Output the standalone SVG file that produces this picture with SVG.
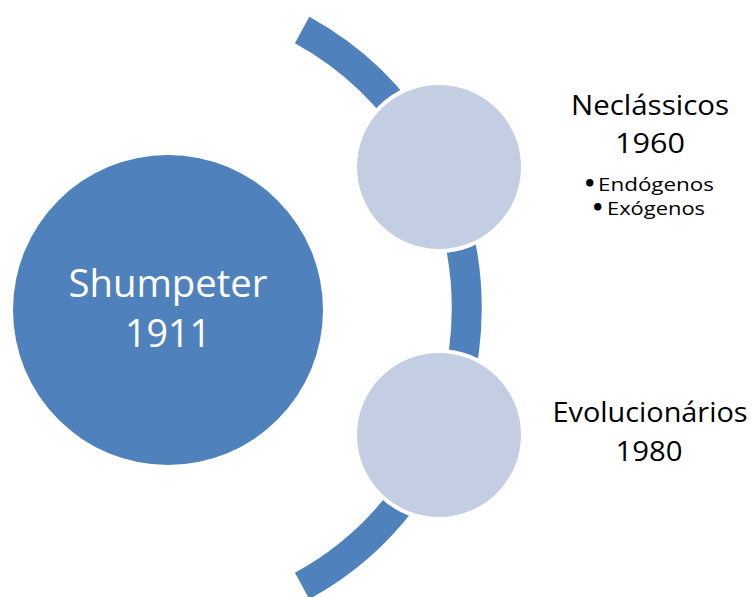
<svg xmlns="http://www.w3.org/2000/svg" width="751" height="597" viewBox="0 0 751 597">
  <style>
    .band { fill: none; stroke: #4F81BD; stroke-width: 30; stroke-linecap: butt; }
    .big { fill: #4F81BD; }
    .small { fill: #C4CEE2; stroke: #FFFFFF; stroke-width: 4; }
    .t { font-family: "Open Sans", "Liberation Sans", sans-serif; text-anchor: middle; }
    .s { font-family: "Open Sans", "Liberation Sans", sans-serif; font-size: 19px; }
    .b { font-family: "DejaVu Sans", sans-serif; font-weight: bold; font-size: 21px; }
    .w { fill: #FFFFFF; }
    .k { fill: #000000; }
  </style>
  <rect width="751" height="597" fill="#FFFFFF"/>
  <g id="connectors">
    <path class="band" d="M302.1,30 A317,317 0 0 1 302.1,586"/>
  </g>
  <g id="node-shumpeter">
    <circle class="big" cx="168" cy="310" r="155"/>
    <text class="t w" x="168" y="297" font-size="38" textLength="199" lengthAdjust="spacingAndGlyphs">Shumpeter</text>
    <text class="t w" x="168" y="347" font-size="38" textLength="86" lengthAdjust="spacingAndGlyphs">1911</text>
  </g>
  <g id="node-neoclassicos">
    <circle class="small" cx="439" cy="167" r="84"/>
    <text class="t k" x="650" y="115" font-size="27" textLength="158" lengthAdjust="spacingAndGlyphs">Neclássicos</text>
    <text class="t k" x="650" y="153" font-size="27" textLength="70" lengthAdjust="spacingAndGlyphs">1960</text>
    <text class="s k" y="191"><tspan class="b" x="583">•</tspan><tspan x="598" textLength="116" lengthAdjust="spacingAndGlyphs">Endógenos</tspan></text>
    <text class="s k" y="215"><tspan class="b" x="591">•</tspan><tspan x="607" textLength="98" lengthAdjust="spacingAndGlyphs">Exógenos</tspan></text>
  </g>
  <g id="node-evolucionarios">
    <circle class="small" cx="439" cy="435" r="84"/>
    <text class="t k" x="650" y="422" font-size="28" textLength="195" lengthAdjust="spacingAndGlyphs">Evolucionários</text>
    <text class="t k" x="649" y="461" font-size="28" textLength="67" lengthAdjust="spacingAndGlyphs">1980</text>
  </g>
</svg>
